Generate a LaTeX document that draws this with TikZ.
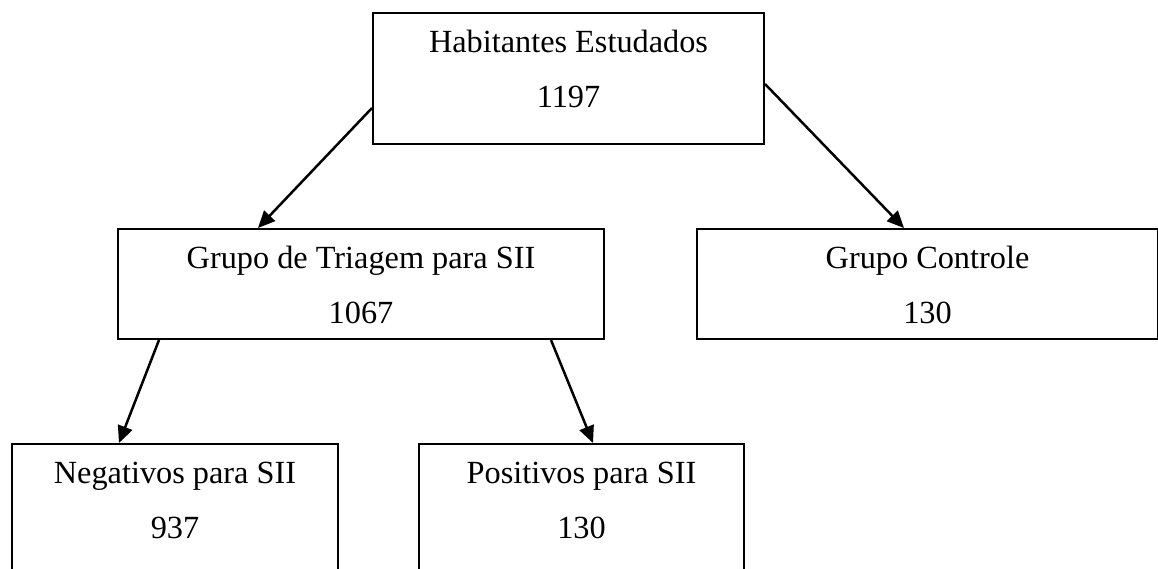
\documentclass[tikz,border=0pt]{standalone}
\usepackage{fontspec}
\setmainfont{Liberation Serif}
\usetikzlibrary{arrows.meta}
\tikzset{
  box/.style={draw=black, line width=2pt, rectangle, inner sep=0pt, anchor=north west},
  txt/.style={inner sep=0pt, anchor=base, font=\fontsize{32.3}{38}\selectfont},
  arr/.style={line width=2.5pt, -{Triangle[length=17pt,width=15pt]}}
}
\begin{document}
\begin{tikzpicture}[x=1pt,y=-1pt]
\useasboundingbox (0,0) rectangle (1158,568);
\clip (0,0) rectangle (1158,568);
% boxes
\node[box, minimum width=391pt, minimum height=131pt] (top) at (372,12) {};
\node[box, minimum width=486pt, minimum height=110pt] (tri) at (117,228) {};
\node[box, minimum width=461pt, minimum height=110pt] (ctl) at (696,228) {};
\node[box, minimum width=326pt, minimum height=131pt] (neg) at (11,443) {};
\node[box, minimum width=325pt, minimum height=131pt] (pos) at (418,443) {};
% texts
\node[txt] (topa) at ([yshift=-40pt]top.north) {Habitantes Estudados};
\node[txt] (topb) at ([yshift=-95pt]top.north) {1197};
\node[txt] (tria) at ([yshift=-40pt]tri.north) {Grupo de Triagem para SII};
\node[txt] (trib) at ([yshift=-95pt]tri.north) {1067};
\node[txt] (ctla) at ([yshift=-40pt]ctl.north) {Grupo Controle};
\node[txt] (ctlb) at ([yshift=-95pt]ctl.north) {130};
\node[txt] (nega) at ([yshift=-40pt]neg.north) {Negativos para SII};
\node[txt] (negb) at ([yshift=-95pt]neg.north) {937};
\node[txt] (posa) at ([yshift=-40pt]pos.north) {Positivos para SII};
\node[txt] (posb) at ([yshift=-95pt]pos.north) {130};
% arrows
\draw[arr] ([yshift=-29.5pt]top.west) -- ([xshift=-103pt]tri.north);
\draw[arr] ([yshift=-5.5pt]top.east) -- ([xshift=-23.5pt]ctl.north);
\draw[arr] ([xshift=-202pt]tri.south) -- ([xshift=-56pt]neg.north);
\draw[arr] ([xshift=190pt]tri.south) -- ([xshift=11.5pt]pos.north);
\end{tikzpicture}
\end{document}
